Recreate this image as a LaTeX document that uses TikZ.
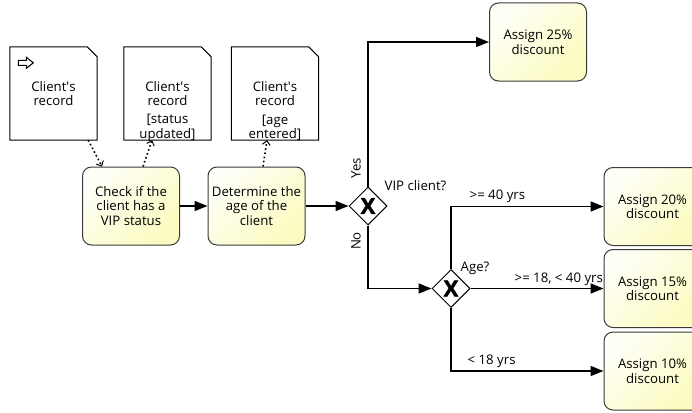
\documentclass[tikz,border=0pt]{standalone}
\usepackage{fontspec}
\setmainfont{Open Sans}
\newfontfamily\xmarkfont{Open Sans}[BoldFeatures={FakeBold=1.6}]
\usetikzlibrary{arrows.meta,shapes.geometric,calc}
\definecolor{taskfillA}{HTML}{FFFFF8}
\definecolor{taskfillB}{HTML}{FBFBC0}
\definecolor{edgegray}{HTML}{3A3A3A}
\newcommand{\apos}{\textquotesingle}
\tikzset{
  txt/.style={font=\fontsize{13.2}{14.5}\selectfont},
  task/.style={txt, rectangle, rounded corners=9pt, draw=edgegray, line width=1pt,
    minimum width=97pt, minimum height=78pt, align=center, inner sep=2pt,
    left color=taskfillA, right color=taskfillB, shading angle=45},
  docbox/.style={txt, minimum width=87pt, minimum height=93pt, inner sep=0pt, align=center},
  docline/.style={draw=black, line width=1pt, line join=miter},
  gate/.style={diamond, draw=black, line width=1pt, minimum width=38pt,
    minimum height=38pt, inner sep=0pt, fill=white,
    font=\fontsize{22}{22}\selectfont\xmarkfont\bfseries},
  flow/.style={line width=1.6pt, -{Triangle[length=13pt,width=10pt]}},
  assoc/.style={line width=1.6pt, dash pattern=on 1.6pt off 2.6pt,
    -{Straight Barb[length=4pt,width=8pt,line width=1pt]}},
  lbl/.style={txt, inner sep=0pt},
}
\begin{document}
\begin{tikzpicture}[x=1pt,y=-1pt]
  \useasboundingbox (0,0) rectangle (692,412);

  % data objects
  \node[docbox] (d1) at (53.5,93.5) {Client\apos s\\record};
  \node[docbox] (d2) at (167.5,93.5) {Client\apos s\\record};
  \node[docbox] (d3) at (275,93.5) {Client\apos s\\record};
  \node[lbl, align=center] (d2s) at (167.5,128) {{[status}\\updated]};
  \node[lbl, align=center] (d3s) at (275,128) {{[age}\\entered]};
  \foreach \d in {d1,d2,d3}{
    \draw[docline] (\d.north west) -- ([xshift=-10pt]\d.north east)
      -- ([yshift=-10pt]\d.north east) -- (\d.south east)
      -- (\d.south west) -- cycle;
  }
  % input marker on the first data object
  \draw[line width=1.1pt, line join=miter]
    ([shift={(8.5pt,-13.5pt)}]d1.north west) -- ++(8,0) -- ++(0,-3) -- ++(7,5.5)
    -- ++(-7,5.5) -- ++(0,-3) -- ++(-8,0) -- cycle;

  % tasks
  \node[task] (t1) at (131,206) {Check if the\\client has a\\VIP status};
  \node[task] (t2) at (256.5,206) {Determine the\\age of the\\client};
  \node[task] (t25) at (538,42) {Assign 25\%\\discount};
  \node[task] (t20) at (652.5,206.5) {Assign 20\%\\discount};
  \node[task] (t15) at (652.5,288.5) {Assign 15\%\\discount};
  \node[task] (t10) at (652.5,371) {Assign 10\%\\discount};

  % gateways
  \node[gate] (g1) at (368,206) {X};
  \node[gate] (g2) at (451,288.5) {X};

  % sequence flows
  \draw[flow] (t1.east) -- (t2.west);
  \draw[flow] (t2.east) -- (g1.west);
  \draw[flow] (g1.north) |- (t25.west);
  \draw[flow] (g1.south) |- (g2.west);
  \draw[flow] (g2.north) |- (t20.west);
  \draw[flow] (g2.east) -- (t15.west);
  \draw[flow] (g2.south) |- (t10.west);

  % data associations
  \draw[assoc] ([xshift=-9pt]d1.south east) -- ([xshift=20pt]t1.north west);
  \draw[assoc] ([xshift=12pt]t1.north) -- ([xshift=-15.5pt]d2.south);
  \draw[assoc] ([xshift=6.5pt]t2.north) -- ([xshift=-8pt]d3.south);

  % gateway and flow labels
  \node[lbl, rotate=90] (lyes) at (356,168) {Yes};
  \node[lbl, rotate=90] (lno) at (356,241) {No};
  \node[lbl, anchor=west] (lvip) at (384.5,186) {VIP client?};
  \node[lbl, anchor=west] (lage) at (460.5,268) {Age?};
  \node[lbl, anchor=west] (l40) at (469.5,196.5) {>= 40 yrs};
  \node[lbl, anchor=west] (l1840) at (514.5,279.5) {>= 18, < 40 yrs};
  \node[lbl, anchor=west] (l18) at (467.5,361) {< 18 yrs};
\end{tikzpicture}
\end{document}
